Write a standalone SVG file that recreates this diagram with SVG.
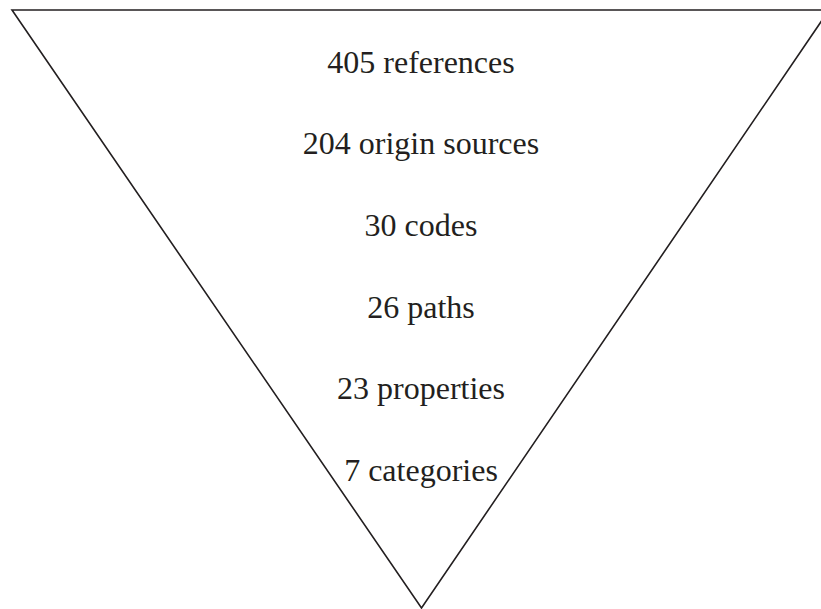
<svg xmlns="http://www.w3.org/2000/svg" width="821" height="609" viewBox="0 0 821 609">
  <style>
    .funnel { fill: #ffffff; stroke: #231f20; stroke-width: 1.6; stroke-linejoin: miter; }
    .label { font-family: "Liberation Serif", "Times New Roman", serif; font-size: 32px; fill: #231f20; text-anchor: middle; }
  </style>
  <rect width="821" height="609" fill="#ffffff"/>
  <!-- inverted funnel outline -->
  <g id="funnel">
    <polygon class="funnel" points="12,10 829,10 421.5,608"/>
  </g>
  <!-- funnel levels, top to bottom -->
  <g id="level-references"><text class="label" x="421" y="72.5">405 references</text></g>
  <g id="level-origin-sources"><text class="label" x="421" y="154">204 origin sources</text></g>
  <g id="level-codes"><text class="label" x="421" y="236">30 codes</text></g>
  <g id="level-paths"><text class="label" x="421" y="317.5">26 paths</text></g>
  <g id="level-properties"><text class="label" x="421" y="399">23 properties</text></g>
  <g id="level-categories"><text class="label" x="421" y="480.5">7 categories</text></g>
</svg>
